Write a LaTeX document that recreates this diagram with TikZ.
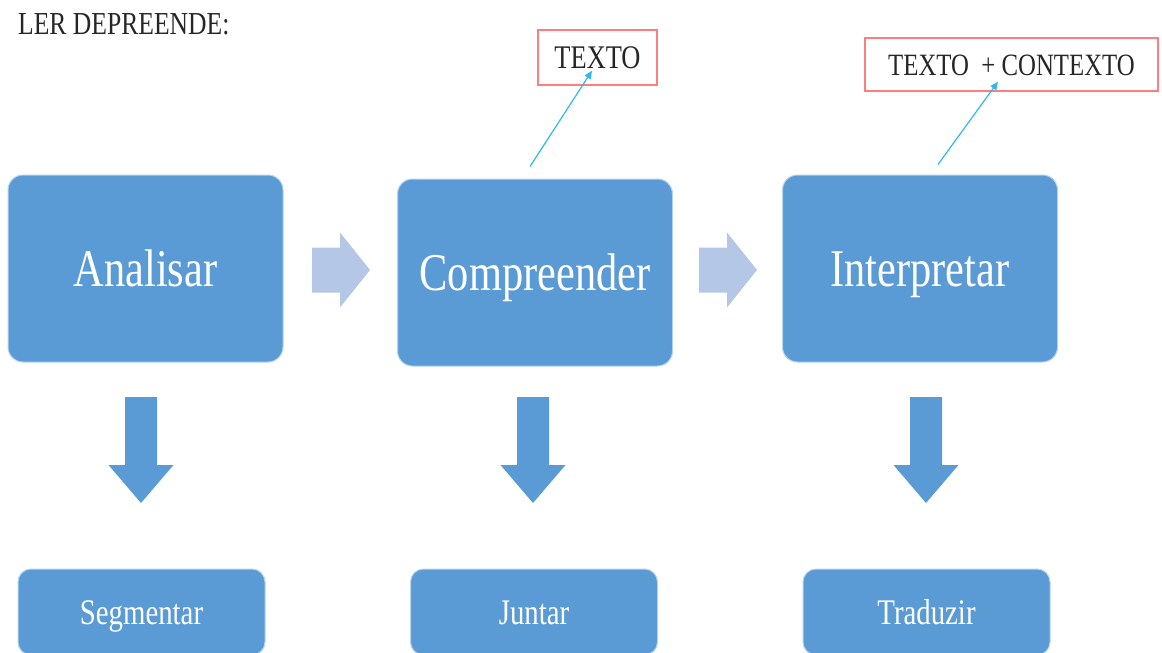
\documentclass[tikz,border=0pt]{standalone}
\usepackage{fontspec}
\setmainfont[FakeStretch=0.8]{Liberation Serif}
\usetikzlibrary{arrows.meta, calc}
\definecolor{mblue}{HTML}{5B9BD5}
\definecolor{mpale}{HTML}{B4C7E7}
\definecolor{mred}{HTML}{FF7C80}
\definecolor{mcyan}{HTML}{2EB8F0}
\definecolor{mtext}{HTML}{262626}
\tikzset{
  mainbox/.style={draw=mblue!45!white, line width=1pt, fill=mblue, rounded corners=15pt,
                  text=white, minimum width=275pt, minimum height=187pt, inner sep=0pt,
                  text height=35pt, text depth=0pt, font=\fontsize{53}{60}\selectfont},
  subbox/.style={draw=mblue!45!white, line width=1pt, fill=mblue, rounded corners=13pt,
                 text=white, minimum width=247pt, minimum height=86pt, inner sep=0pt,
                 text height=24pt, text depth=0pt, font=\fontsize{36}{40}\selectfont},
  notebox/.style={draw=mred, line width=1.5pt, fill=white, text=mtext, inner sep=0pt,
                  text height=22pt, text depth=0pt, font=\fontsize{33}{38}\selectfont},
  ptr/.style={-{Triangle[length=8pt,width=7pt]}, mcyan, line width=1.2pt},
  rarr/.pic={\fill[mpale] (-29,-22.5) -- (-1,-22.5) -- (-1,-37.5) -- (29,0) -- (-1,37.5)
                          -- (-1,22.5) -- (-29,22.5) -- cycle;},
  downarr/.pic={\fill[mblue] (-16,0) -- (16,0) -- (16,68) -- (32.5,68) -- (0,106)
                             -- (-32.5,68) -- (-16,68) -- cycle;},
}

\begin{document}
\begin{tikzpicture}[x=1pt, y=-1pt]
  \useasboundingbox (0,0) rectangle (1162,653);

  %% Title
  \node[anchor=west, inner sep=0pt, text=mtext, text height=21pt, text depth=0pt,
        font=\fontsize{32}{36}\selectfont] (title) at (18,24) {LER DEPREENDE:};

  %% Main steps
  \node[mainbox] (ana) at (145.5,268.5) {Analisar};
  \node[mainbox] (comp) at (535,272.5) {Compreender};
  \node[mainbox] (inter) at (920,268.5) {Interpretar};

  \pic at (341,270) {rarr};
  \pic at (728,270) {rarr};

  %% Results
  \pic at (141,397) {downarr};
  \pic at (533,397) {downarr};
  \pic at (926,397) {downarr};

  \node[subbox] (seg) at (141.5,612) {Segmentar};
  \node[subbox] (jun) at (534,612) {Juntar};
  \node[subbox] (trad) at (926.5,612) {Traduzir};

  %% Notes
  \node[notebox, minimum width=119pt, minimum height=55pt] (txt) at (597.5,57.5) {TEXTO};
  \node[notebox, minimum width=293pt, minimum height=53pt, font=\fontsize{31}{36}\selectfont] (ctx) at (1011.5,64.5) {TEXTO\ \ + CONTEXTO};

  \coordinate (c1) at ($(comp.north)+(-5,-12)$);
  \coordinate (c2) at ($(txt.south)+(-5.5,-15)$);
  \coordinate (c3) at ($(inter.north)+(18,-10)$);
  \coordinate (c4) at ($(ctx.south)+(-13.5,-10)$);
  \draw[ptr] (c1) -- (c2);
  \draw[ptr] (c3) -- (c4);

\end{tikzpicture}
\end{document}
